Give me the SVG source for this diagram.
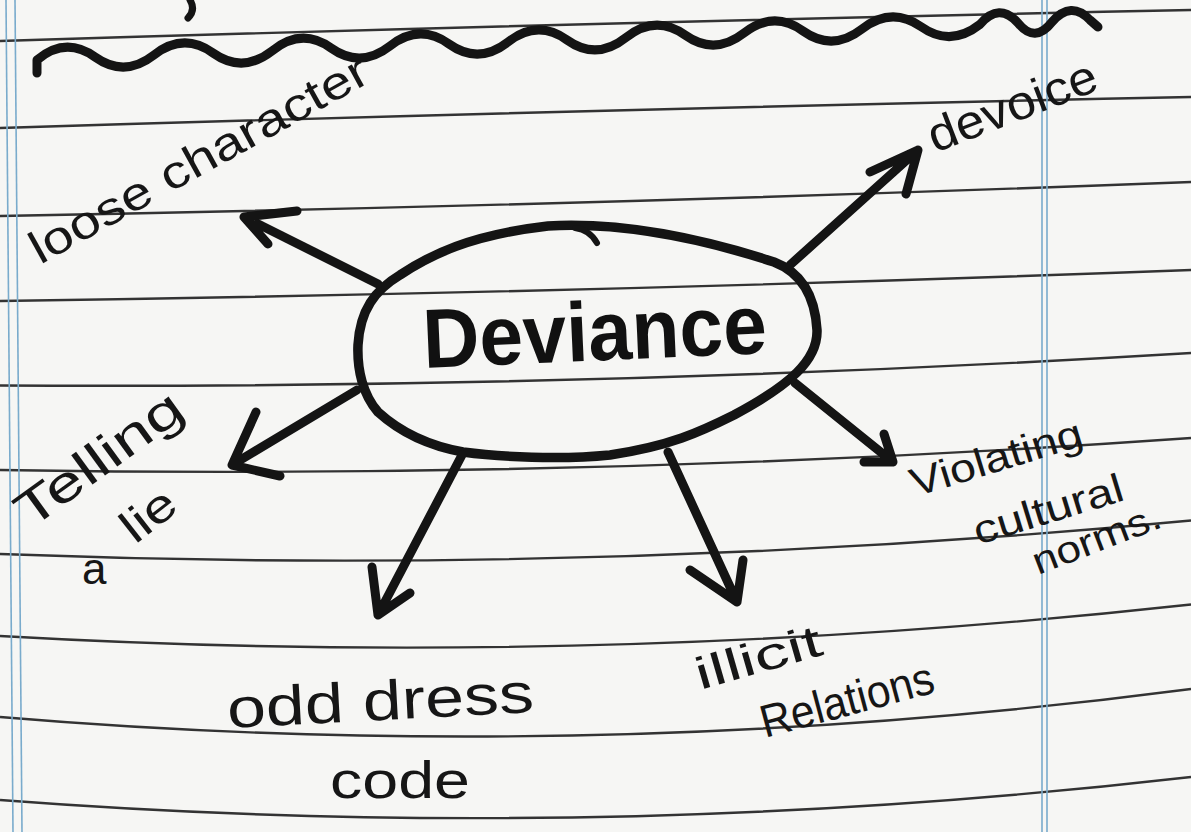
<svg xmlns="http://www.w3.org/2000/svg" width="1191" height="832" viewBox="0 0 1191 832">
<defs>
<style>
.rule{fill:none;stroke:#333;stroke-width:2.4}
.blue{fill:none;stroke:#79abcc;stroke-width:1.6}
.ink{fill:none;stroke:#141414;stroke-linecap:round;stroke-linejoin:round}
.shaft{stroke-width:9}
.hand{font-family:"Liberation Sans","DejaVu Sans",sans-serif;fill:#161616}
.big{font-family:"Liberation Sans","DejaVu Sans",sans-serif;font-weight:bold;fill:#111}
</style>
</defs>
<rect width="1191" height="832" fill="#f6f6f4"/>
<g id="paper">
<path class="rule" d="M0,41 Q595,22.5 1191,10"/>
<path class="rule" d="M0,128 Q595,109.5 1191,97"/>
<path class="rule" d="M0,216 Q595,205 1191,182"/>
<path class="rule" d="M0,301 Q595,292.5 1191,270"/>
<path class="rule" d="M0,385.5 Q595,389 1191,353"/>
<path class="rule" d="M0,470 Q595,480 1191,438"/>
<path class="rule" d="M0,554 Q595,577 1191,520.5"/>
<path class="rule" d="M0,636 Q595,670 1191,604.5"/>
<path class="rule" d="M0,717 Q595,767 1191,689"/>
<path class="rule" d="M0,800 Q595,845.5 1191,777"/>
<path class="blue" d="M6,0 L13,832"/>
<path class="blue" d="M15,0 L22,832"/>
<path class="blue" d="M1042,0 L1042,832"/>
<path class="blue" d="M1047,0 L1047,832"/>
</g>
<g id="scribble">
<path class="ink" stroke-width="7" d="M190,0 Q196,10 188,18"/>
<path class="ink" stroke-width="9" d="M37,73 L37,60 Q65.5,36 95,57 Q124.5,78 154,55 Q183.5,32 213,53 Q242.5,74 272,51 Q301.5,27 331,48 Q360.5,69 390,46 Q419.5,23 449,44 Q478.5,65 508,42 Q537.5,19 567,40 Q596.5,61 626,37.5 Q655.5,14 685,35 Q714.5,56 744,33 Q773.5,10 803,31 Q832.5,52 862,29 Q891.5,6 921,26.6 Q950.5,47.5 980,24.4 Q999,2 1018,23 Q1035,44 1052,22 Q1071,0 1090,20 L1098,27"/>
</g>
<g id="node-deviance">
<path class="ink" stroke-width="9.5" d="M358,345 C360,310 375,290 400,275 C430,255 470,235 548,226 C620,222 700,238 774,262 C800,272 815,295 817,330 C818,360 790,385 734,415 C700,432 670,446 610,455 C560,460 500,457 463,452 C430,446 400,432 378,412 C363,395 357,370 358,345 Z"/>
<path class="ink" stroke-width="6" d="M575,228 Q590,230 597,243"/>
<text class="big" x="424" y="368" font-size="84" textLength="344" lengthAdjust="spacingAndGlyphs" transform="rotate(-2.5 424 368)">Deviance</text>
</g>
<g id="connectors">
<path class="ink shaft" d="M378,284 L244,217 M297,211 L244,217 L268,244"/>
<path class="ink shaft" d="M790,265 L918,150 M870,172 L918,150 L906,194"/>
<path class="ink shaft" d="M357,390 L232,465 M256,412 L232,465 L280,476"/>
<path class="ink shaft" d="M462,455 L378,615 M372,567 L378,615 L410,593"/>
<path class="ink shaft" d="M668,452 L737,602 M690,570 L737,602 L743,560"/>
<path class="ink shaft" d="M795,383 L893,462 M884,434 L893,462 L864,462"/>
</g>
<g id="node-loose">
<text class="hand" x="40" y="265" font-size="46" textLength="380" lengthAdjust="spacingAndGlyphs" transform="rotate(-29 40 265)">loose character</text>
</g>
<g id="node-devoice">
<text class="hand" x="935" y="153" font-size="48" textLength="178" lengthAdjust="spacingAndGlyphs" transform="rotate(-21 935 153)">devoice</text>
</g>
<g id="node-lie">
<text class="hand" x="30" y="530" font-size="50" textLength="195" lengthAdjust="spacingAndGlyphs" transform="rotate(-36 30 530)">Telling</text>
<text class="hand" x="135" y="545" font-size="46" textLength="58" lengthAdjust="spacingAndGlyphs" transform="rotate(-38 135 545)">lie</text>
<text class="hand" x="82" y="584" font-size="44">a</text>
</g>
<g id="node-violating">
<text class="hand" x="915" y="497" font-size="40" textLength="178" lengthAdjust="spacingAndGlyphs" transform="rotate(-17 915 497)">Violating</text>
<text class="hand" x="978" y="545" font-size="40" textLength="155" lengthAdjust="spacingAndGlyphs" transform="rotate(-17 978 545)">cultural</text>
<text class="hand" x="1038" y="575" font-size="38" textLength="135" lengthAdjust="spacingAndGlyphs" transform="rotate(-21 1038 575)">norms.</text>
</g>
<g id="node-odd">
<text class="hand" x="228" y="728" font-size="56" textLength="307" lengthAdjust="spacingAndGlyphs" transform="rotate(-3 228 728)">odd dress</text>
<text class="hand" x="330" y="798" font-size="52" textLength="140" lengthAdjust="spacingAndGlyphs">code</text>
</g>
<g id="node-illicit">
<text class="hand" x="700" y="690" font-size="45" textLength="130" lengthAdjust="spacingAndGlyphs" transform="rotate(-16 700 690)">illicit</text>
<text class="hand" x="765" y="738" font-size="46" textLength="178" lengthAdjust="spacingAndGlyphs" transform="rotate(-15 765 738)">Relations</text>
</g>
</svg>
